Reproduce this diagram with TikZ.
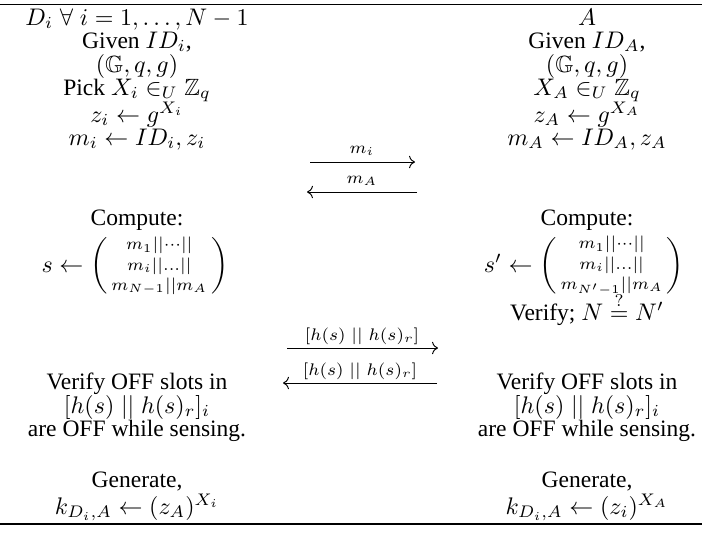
\documentclass[tikz,border=0pt]{standalone}
\usepackage[no-math]{fontspec}
\setmainfont{Liberation Serif}
\usepackage{amsmath,amssymb}
\usetikzlibrary{arrows.meta}
\begin{document}
\begin{tikzpicture}[x=0.416667pt,y=-0.416667pt,
  txt/.style={anchor=base,inner sep=0pt,font=\fontsize{9.8}{11.8}\selectfont},
  msg/.style={line width=0.4pt,-{Computer Modern Rightarrow}},
  lbl/.style={anchor=base,inner sep=0pt,font=\fontsize{9.8}{11.8}\selectfont},
  rulestyle/.style={line width=0.6pt}]
\useasboundingbox (0,0) rectangle (702,533);
% rules
\coordinate (tl) at (0,4.5); \coordinate (tr) at (702,4.5);
\coordinate (bl) at (0,524); \coordinate (br) at (702,524);
\draw[rulestyle] (tl) -- (tr);
\draw[rulestyle] (bl) -- (br);
% left column
\node[txt] (l1) at (137,25) {$D_i\;\forall\; i=1,\dots,N-1$};
\node[txt] (l2) at (137,48) {Given $ID_i$,};
\node[txt] (l3) at (137,72) {$(\mathbb{G},q,g)$};
\node[txt] (l4) at (137,95) {Pick $X_i\in_U\mathbb{Z}_q$};
\node[txt] (l5) at (137,122) {$z_i\leftarrow g^{X_i}$};
\node[txt] (l6) at (137,145) {$m_i\leftarrow ID_i,z_i$};
\node[txt] (l7) at (137,225) {Compute:};
\node[txt] (l8) at (135,272) {$s\leftarrow\left(\begin{smallmatrix} m_1||\cdots||\\ m_i||\ldots||\\ m_{N-1}||m_A\end{smallmatrix}\right)$};
\node[txt] (l9) at (137,389) {Verify OFF slots in};
\node[txt] (l10) at (137,413) {$[h(s)\;||\;h(s)_r]_i$};
\node[txt] (l11) at (137,436) {are OFF while sensing.};
\node[txt] (l12) at (137,487) {Generate,};
\node[txt] (l13) at (137,514) {$k_{D_i,A}\leftarrow(z_A)^{X_i}$};
% right column
\node[txt] (r1) at (587,25) {$A$};
\node[txt] (r2) at (587,48) {Given $ID_A$,};
\node[txt] (r3) at (587,72) {$(\mathbb{G},q,g)$};
\node[txt] (r4) at (587,95) {$X_A\in_U\mathbb{Z}_q$};
\node[txt] (r5) at (587,122) {$z_A\leftarrow g^{X_A}$};
\node[txt] (r6) at (587,145) {$m_A\leftarrow ID_A,z_A$};
\node[txt] (r7) at (587,225) {Compute:};
\node[txt] (r8) at (584,272) {$s'\leftarrow\left(\begin{smallmatrix} m_1||\cdots||\\ m_i||\ldots||\\ m_{N'-1}||m_A\end{smallmatrix}\right)$};
\node[txt] (r9) at (587,320) {Verify; $N\stackrel{?}{=}N'$};
\node[txt] (r10) at (587,389) {Verify OFF slots in};
\node[txt] (r11) at (587,413) {$[h(s)\;||\;h(s)_r]_i$};
\node[txt] (r12) at (587,436) {are OFF while sensing.};
\node[txt] (r13) at (587,487) {Generate,};
\node[txt] (r14) at (587,514) {$k_{D_i,A}\leftarrow(z_i)^{X_A}$};
% messages
\coordinate (a1s) at (310,162); \coordinate (a1e) at (415,162);
\coordinate (a2s) at (417,192); \coordinate (a2e) at (307,192);
\coordinate (a3s) at (287,348); \coordinate (a3e) at (438,348);
\coordinate (a4s) at (437,383); \coordinate (a4e) at (283,383);
\draw[msg] (a1s) -- (a1e);
\draw[msg] (a2s) -- (a2e);
\draw[msg] (a3s) -- (a3e);
\draw[msg] (a4s) -- (a4e);
\node[lbl] (t1) at (362,153) {$\scriptstyle m_i$};
\node[lbl] (t2) at (362,183) {$\scriptstyle m_A$};
\node[lbl] (t3) at (362,340) {$\scriptstyle [h(s)\ ||\ h(s)_r]$};
\node[lbl] (t4) at (360,375) {$\scriptstyle [h(s)\ ||\ h(s)_r]$};
\end{tikzpicture}
\end{document}
